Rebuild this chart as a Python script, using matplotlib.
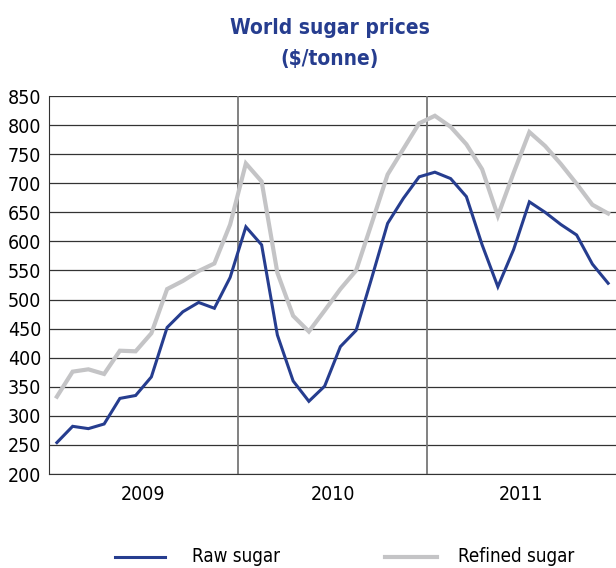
import matplotlib
matplotlib.use("Agg")
import matplotlib.pyplot as plt
import numpy as np

# monthly prices, Jan 2009 .. Dec 2011
raw_sugar = [254, 282, 278, 286, 330, 335, 367, 452, 479, 495, 485, 538,
             625, 594, 439, 360, 325, 351, 419, 447, 538, 631, 674, 711,
             719, 708, 677, 594, 522, 586, 668, 650, 629, 611, 561, 528]
refined_sugar = [333, 376, 380, 372, 412, 411, 442, 518, 532, 549, 562, 629,
                 734, 703, 546, 472, 445, 481, 518, 550, 632, 715, 759, 803,
                 816, 797, 767, 724, 644, 718, 788, 764, 733, 699, 663, 648]
years = ["2009", "2010", "2011"]
y_ticks = list(range(200, 851, 50))

navy = "#263d8f"
grey = "#c4c4c6"

plt.rcParams['font.family'] = ['DejaVu Sans']
plt.rcParams['font.stretch'] = 'condensed'

fig = plt.figure(figsize=(6.16, 5.68), dpi=100)
ax = fig.add_axes([49/616, 1 - 474/568, 1 - 49/616, (474 - 96)/568])

x = np.arange(len(raw_sugar)) + 0.5
ax.plot(x, refined_sugar, color=grey, lw=3.0, solid_joinstyle='miter')
ax.plot(x, raw_sugar, color=navy, lw=2.2, solid_joinstyle='miter')

ax.set_xlim(0, 36)
ax.set_ylim(200, 850)
ax.set_yticks(y_ticks)
ax.tick_params(axis='y', length=0, labelsize=14, pad=5.5)
ax.set_xticks([6, 18, 30])
ax.set_xticklabels(years)
ax.tick_params(axis='x', length=0, labelsize=14, pad=8)

for v in y_ticks:
    ax.axhline(v, color="#333333", lw=0.9, zorder=0)
for b in [12, 24]:
    ax.axvline(b, color="#777777", lw=1.3, zorder=0)

for s in ['top', 'right']:
    ax.spines[s].set_visible(False)
ax.spines['left'].set_color("#333333")
ax.spines['bottom'].set_color("#333333")

fig.text(330/616, 1 - 28/568, "World sugar prices", ha='center', va='center',
         fontsize=15, fontweight='bold', color=navy)
fig.text(330/616, 1 - 59/568, "($/tonne)", ha='center', va='center',
         fontsize=15, fontweight='bold', color=navy)

# legend, drawn in figure coords
fig.add_artist(plt.Line2D([115/616, 165/616], [1 - 557/568] * 2, color=navy, lw=2.2))
fig.text(192/616, 1 - 557/568, "Raw sugar", va='center', fontsize=13.5)
fig.add_artist(plt.Line2D([385/616, 437/616], [1 - 557/568] * 2, color=grey, lw=3.0))
fig.text(458/616, 1 - 557/568, "Refined sugar", va='center', fontsize=13.5)

fig.savefig("out.png", dpi=100)
